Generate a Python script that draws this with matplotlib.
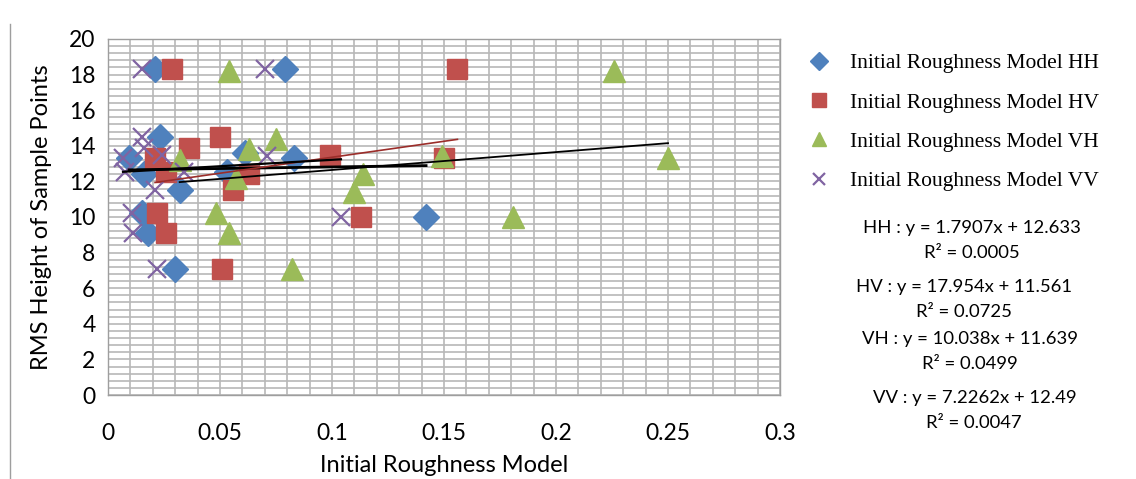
import matplotlib
matplotlib.use("Agg")
import matplotlib.pyplot as plt
import numpy as np
from matplotlib.ticker import MultipleLocator

# ---- data ----
hh_x = [0.021, 0.079, 0.023, 0.061, 0.083, 0.0094, 0.053, 0.016, 0.032, 0.015, 0.142, 0.018, 0.030]
hh_y = [18.3, 18.3, 14.5, 13.6, 13.3, 13.3, 12.5, 12.4, 11.5, 10.2, 10.0, 9.1, 7.1]

hv_x = [0.0286, 0.156, 0.050, 0.036, 0.099, 0.021, 0.150, 0.026, 0.063, 0.056, 0.022, 0.113, 0.026, 0.051]
hv_y = [18.3, 18.3, 14.5, 13.9, 13.5, 13.3, 13.3, 12.5, 12.4, 11.5, 10.2, 10.0, 9.1, 7.1]

vh_x = [0.054, 0.226, 0.075, 0.063, 0.032, 0.149, 0.250, 0.057, 0.114, 0.110, 0.048, 0.181, 0.054, 0.082]
vh_y = [18.2, 18.2, 14.4, 13.8, 13.2, 13.4, 13.3, 12.2, 12.4, 11.4, 10.2, 10.0, 9.1, 7.1]

vv_x = [0.015, 0.070, 0.015, 0.016, 0.0067, 0.024, 0.071, 0.0076, 0.034, 0.021, 0.0107, 0.104, 0.011, 0.022]
vv_y = [18.3, 18.3, 14.5, 13.9, 13.3, 13.5, 13.4, 12.5, 12.5, 11.5, 10.2, 10.0, 9.1, 7.1]

series_names = ["Initial Roughness Model HH", "Initial Roughness Model HV",
                "Initial Roughness Model VH", "Initial Roughness Model VV"]
trend_slopes = [1.7907, 17.954, 10.038, 7.2262]
trend_intercepts = [12.633, 11.561, 11.639, 12.49]
eq_lines = ["HH : y = 1.7907x + 12.633", "R\u00b2 = 0.0005",
            "HV : y = 17.954x + 11.561", "R\u00b2 = 0.0725",
            "VH : y = 10.038x + 11.639", "R\u00b2 = 0.0499",
            "VV : y = 7.2262x + 12.49", "R\u00b2 = 0.0047"]
x_label = "Initial Roughness Model"
y_label = "RMS Height of Sample Points"

# ---- styling ----
W, H = 1136, 479
fig = plt.figure(figsize=(W / 100, H / 100), dpi=100)
ax = fig.add_axes([108 / W, 1 - 395 / H, (780 - 108) / W, (395 - 39) / H])

colors = ["#4F81BD", "#C0504D", "#9BBB59", "#8064A2"]
trend_colors = ["black", "#9B2D2A", "black", "black"]
trend_lw = [2.0, 1.2, 1.3, 1.6]

ax.set_xlim(0, 0.3)
ax.set_ylim(0, 20)
ax.xaxis.set_major_locator(MultipleLocator(0.05))
ax.xaxis.set_minor_locator(MultipleLocator(0.01))
ax.yaxis.set_major_locator(MultipleLocator(2))
ax.yaxis.set_minor_locator(MultipleLocator(0.4))
ax.grid(which="both", color="#B8B8B8", linewidth=1.2, zorder=0)
ax.set_axisbelow(True)
for s in ax.spines.values():
    s.set_color("#9E9E9E")
    s.set_linewidth(1.0)
ax.tick_params(which="both", length=0, labelsize=16.5, colors="black")
ax.tick_params(axis="y", pad=9)
ax.tick_params(axis="x", pad=20)
for lab in ax.get_xticklabels() + ax.get_yticklabels():
    lab.set_fontfamily("Lato")
ax.xaxis.set_major_formatter(matplotlib.ticker.FuncFormatter(lambda v, p: f"{v:g}"))

h1, = ax.plot(hh_x, hh_y, "D", color=colors[0], ms=13.5, mec=colors[0], ls="none", zorder=3)
h2, = ax.plot(hv_x, hv_y, "s", color=colors[1], ms=14.5, mec=colors[1], ls="none", zorder=3)
h3, = ax.plot(vh_x, vh_y, "^", color=colors[2], ms=16, mec=colors[2], ls="none", zorder=3)
h4, = ax.plot(vv_x, vv_y, "x", color=colors[3], ms=12.5, mew=1.6, ls="none", zorder=3)

for xs, m, b, c, lw in zip([hh_x, hv_x, vh_x, vv_x], trend_slopes, trend_intercepts,
                           trend_colors, trend_lw):
    xx = np.array([min(xs), max(xs)])
    ax.plot(xx, m * xx + b, color=c, lw=lw, zorder=4)

ax.set_xlabel(x_label, fontsize=17, family="Lato", labelpad=8)
ax.set_ylabel(y_label, fontsize=17, family="Lato", labelpad=12)

leg = fig.legend([h1, h2, h3, h4], series_names, loc="upper left",
                 bbox_to_anchor=(808 / W, 1 - 53 / H), frameon=False,
                 prop={"family": "Liberation Serif", "size": 15.5},
                 handlelength=1.0, handletextpad=0.97, labelspacing=0.9,
                 borderpad=0, borderaxespad=0, markerscale=0.65)

eq_x = [972, 972, 964, 964, 970, 970, 975, 974]
eq_y = [228, 253, 287, 312, 339, 364, 398, 423]
for t, xp, yp in zip(eq_lines, eq_x, eq_y):
    fig.text(xp / W, 1 - yp / H, t, ha="center", va="center", fontsize=13.3, family="Lato")

# chart border fragment at the left
fig.add_artist(plt.Line2D([10 / W, 10 / W], [0, 1 - 24 / H], color="#9E9E9E", lw=1.0))

fig.savefig("out.png", dpi=100)
